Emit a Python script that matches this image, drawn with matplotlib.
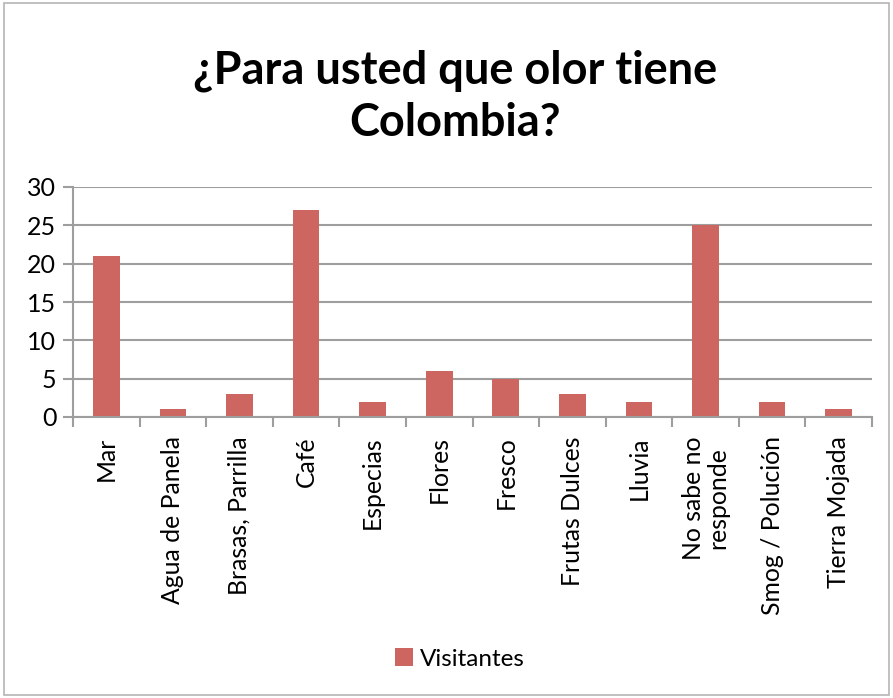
import matplotlib
matplotlib.use("Agg")
import matplotlib.pyplot as plt
from matplotlib.patches import Rectangle

categories = ["Mar", "Agua de Panela", "Brasas, Parrilla", "Café", "Especias",
              "Flores", "Fresco", "Frutas Dulces", "Lluvia",
              "No sabe no\nresponde", "Smog / Polución", "Tierra Mojada"]
visitantes = [21, 1, 3, 27, 2, 6, 5, 3, 2, 25, 2, 1]
y_ticks = [0, 5, 10, 15, 20, 25, 30]
series_name = "Visitantes"
title = "¿Para usted que olor tiene\nColombia?"

plt.rcParams['font.family'] = ['Lato', 'DejaVu Sans']

bar_color = "#CD6660"
grid_color = "#9E9E9E"

fig = plt.figure(figsize=(8.93, 6.98), dpi=100)
fig.patch.set_facecolor("white")
fig.patches.append(Rectangle((0.004, 0.005), 0.992, 0.99, transform=fig.transFigure,
                             fill=False, edgecolor="#B5B5B5", linewidth=1.2))

ax = fig.add_axes([73 / 893, 1 - 417 / 698, (872 - 73) / 893, (417 - 187) / 698])

x = list(range(len(categories)))
ax.bar(x, visitantes, width=0.4, color=bar_color, zorder=3, label=series_name)

ax.set_xlim(-0.5, len(categories) - 0.5)
ax.set_ylim(0, 30)
ax.set_yticks(y_ticks)
ax.set_yticklabels([str(v) for v in y_ticks], fontsize=18)
ax.yaxis.grid(True, color=grid_color, linewidth=1.5, zorder=0)
ax.tick_params(axis="y", length=7, width=1.5, color=grid_color, pad=5)

ax.set_xticks([i - 0.5 for i in range(len(categories) + 1)])
ax.set_xticklabels([])
ax.set_xticks(x, minor=True)
ax.set_xticklabels(categories, minor=True, rotation=90, fontsize=17.8,
                   ha="center", va="top", linespacing=1.05)
ax.tick_params(axis="x", which="minor", length=0, pad=14)
ax.tick_params(axis="x", which="major", length=7, width=1.5, color=grid_color)

for side in ["top", "right"]:
    ax.spines[side].set_visible(False)
for side in ["left", "bottom"]:
    ax.spines[side].set_color(grid_color)
    ax.spines[side].set_linewidth(1.5)
    ax.spines[side].set_zorder(4)

fig.text(455 / 893, 1 - 97 / 698, title, ha="center", va="center", fontsize=32.5,
         fontweight="bold", linespacing=1.3)

handles, labels = ax.get_legend_handles_labels()
leg = fig.legend(handles, labels, loc="center", bbox_to_anchor=(460 / 893, 1 - 659 / 698),
                 frameon=False, fontsize=17.5, handlelength=0.75, handleheight=0.75,
                 handletextpad=0.3)

fig.savefig("out.png", dpi=100)
